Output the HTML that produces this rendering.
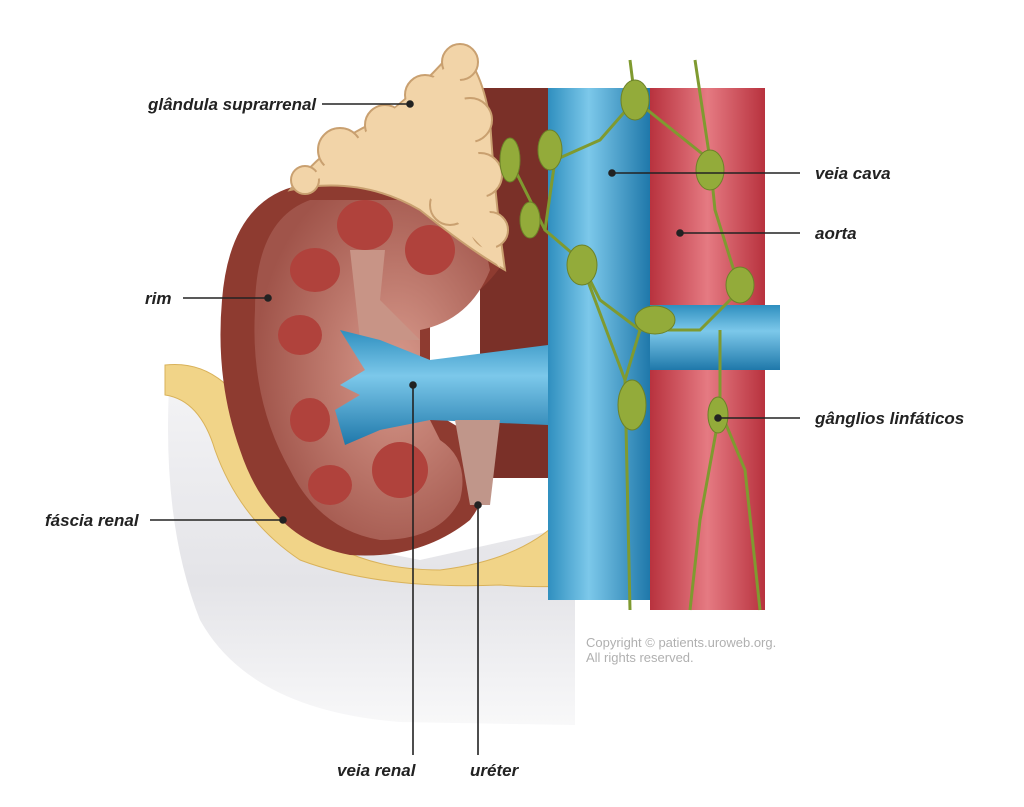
<!DOCTYPE html>
<html><head><meta charset="utf-8"><style>
html,body{margin:0;padding:0;background:#fff;}
svg{display:block}
text{font-family:"Liberation Sans",sans-serif;}
.l{font-weight:bold;font-style:italic;font-size:17px;fill:#222}
</style></head><body>
<svg width="1024" height="807" viewBox="0 0 1024 807" xmlns="http://www.w3.org/2000/svg">
<defs>
<linearGradient id="gr" x1="0" y1="0" x2="0" y2="1"><stop offset="0" stop-color="#f4f4f6"/><stop offset="0.6" stop-color="#e4e4e8"/><stop offset="1" stop-color="#f8f8f9"/></linearGradient>
<linearGradient id="bl" x1="0" y1="0" x2="1" y2="0"><stop offset="0" stop-color="#2f8fbf"/><stop offset="0.4" stop-color="#7cc8ea"/><stop offset="1" stop-color="#1f78aa"/></linearGradient>
<linearGradient id="blh" x1="0" y1="0" x2="0" y2="1"><stop offset="0" stop-color="#2f8fbf"/><stop offset="0.4" stop-color="#7cc8ea"/><stop offset="1" stop-color="#1f78aa"/></linearGradient>
<linearGradient id="rd" x1="0" y1="0" x2="1" y2="0"><stop offset="0" stop-color="#b8323e"/><stop offset="0.5" stop-color="#e57a82"/><stop offset="1" stop-color="#b8323e"/></linearGradient>
<radialGradient id="kd" cx="0.6" cy="0.5" r="0.6"><stop offset="0" stop-color="#d89a8c"/><stop offset="1" stop-color="#a0544a"/></radialGradient>
</defs>
<path d="M170 370 Q160 520 200 620 Q250 710 400 722 L575 725 L575 600 L605 580 L600 520 L420 560 L270 530 Z" fill="url(#gr)"/>
<rect x="480" y="88" width="75" height="390" fill="#7a3028"/>
<rect x="650" y="88" width="115" height="522" fill="url(#rd)"/>
<path d="M165 365 Q210 360 240 400 Q270 470 300 520 Q350 570 440 570 Q520 560 560 520 L580 540 L605 580 Q560 590 500 585 Q380 590 300 560 Q240 520 215 450 Q200 400 165 395 Z" fill="#f1d488" stroke="#d9b25a"/>
<path d="M300 185 Q230 200 222 300 Q215 380 240 450 Q270 540 350 555 Q420 560 470 520 Q500 480 480 440 L430 410 L430 320 Q480 300 505 260 Q500 200 420 185 Z" fill="#8e3b30"/>
<path d="M310 200 Q255 220 255 310 Q250 400 290 470 Q320 530 380 540 Q440 540 460 500 Q470 460 440 440 L420 400 L420 330 Q470 320 490 270 Q480 210 410 200 Z" fill="url(#kd)"/>
<g fill="#b0423c">
<ellipse cx="365" cy="225" rx="28" ry="25"/><ellipse cx="430" cy="250" rx="25" ry="25"/><ellipse cx="315" cy="270" rx="25" ry="22"/>
<ellipse cx="300" cy="335" rx="22" ry="20"/><ellipse cx="310" cy="420" rx="20" ry="22"/><ellipse cx="330" cy="485" rx="22" ry="20"/><ellipse cx="400" cy="470" rx="28" ry="28"/>
</g>
<path d="M350 250 L385 250 L380 300 L420 340 L360 340 Z" fill="#c89486"/>
<path d="M340 330 L380 340 L430 360 L548 345 L548 425 L430 420 L380 430 L345 445 L335 410 L360 395 L340 385 L365 370 Z" fill="url(#blh)"/>
<path d="M455 420 L500 420 L490 505 L470 505 Z" fill="#c0968a"/>
<rect x="548" y="88" width="102" height="512" fill="url(#bl)"/>
<rect x="650" y="305" width="130" height="65" fill="url(#blh)"/>
<g fill="#f2d4a8" stroke="#c9a070" stroke-width="2">
<path d="M290 190 Q330 140 380 120 Q430 80 455 48 Q480 60 490 120 Q495 200 505 270 Q470 250 420 210 Q360 175 290 190 Z"/>
<circle cx="460" cy="62" r="18"/><circle cx="425" cy="95" r="20"/><circle cx="385" cy="125" r="20"/><circle cx="340" cy="150" r="22"/><circle cx="305" cy="180" r="14"/>
<circle cx="470" cy="120" r="22"/><circle cx="480" cy="175" r="22"/><circle cx="490" cy="230" r="18"/><circle cx="430" cy="150" r="22"/><circle cx="450" cy="205" r="20"/>
</g>
<path d="M300 185 Q360 160 420 190 Q470 230 500 268 L480 160 L455 60 Z" fill="#f2d4a8"/>
<g stroke="#7f9a30" stroke-width="3" fill="none">
<path d="M630 60 L635 100 L600 140 L555 160 L545 230 L580 260 L600 300 L640 330 L700 330 L740 290 L715 210 L710 160 L695 60"/>
<path d="M580 260 L625 380 L630 610"/><path d="M640 330 L625 380"/><path d="M720 330 L720 410 L700 520 L690 610"/><path d="M720 410 L745 470 L760 610"/>
<path d="M635 100 L710 160"/><path d="M545 230 L510 160"/>
</g>
<g fill="#93ab3a" stroke="#6c8228">
<ellipse cx="635" cy="100" rx="14" ry="20"/><ellipse cx="550" cy="150" rx="12" ry="20"/><ellipse cx="710" cy="170" rx="14" ry="20"/><ellipse cx="510" cy="160" rx="10" ry="22"/>
<ellipse cx="582" cy="265" rx="15" ry="20"/><ellipse cx="740" cy="285" rx="14" ry="18"/><ellipse cx="655" cy="320" rx="20" ry="14"/><ellipse cx="632" cy="405" rx="14" ry="25"/><ellipse cx="718" cy="415" rx="10" ry="18"/><ellipse cx="530" cy="220" rx="10" ry="18"/>
</g>
<g stroke="#222" stroke-width="1.6" fill="#222">
<line x1="322" y1="104" x2="410" y2="104"/><circle cx="410" cy="104" r="3"/>
<line x1="612" y1="173" x2="800" y2="173"/><circle cx="612" cy="173" r="3"/>
<line x1="680" y1="233" x2="800" y2="233"/><circle cx="680" cy="233" r="3"/>
<line x1="183" y1="298" x2="268" y2="298"/><circle cx="268" cy="298" r="3"/>
<line x1="718" y1="418" x2="800" y2="418"/><circle cx="718" cy="418" r="3"/>
<line x1="150" y1="520" x2="283" y2="520"/><circle cx="283" cy="520" r="3"/>
<line x1="413" y1="385" x2="413" y2="755"/><circle cx="413" cy="385" r="3"/>
<line x1="478" y1="505" x2="478" y2="755"/><circle cx="478" cy="505" r="3"/>
</g>
<text class="l" x="148" y="110">glândula suprarrenal</text>
<text class="l" x="815" y="179">veia cava</text>
<text class="l" x="815" y="239">aorta</text>
<text class="l" x="145" y="304">rim</text>
<text class="l" x="815" y="424">gânglios linfáticos</text>
<text class="l" x="45" y="526">fáscia renal</text>
<text class="l" x="337" y="776">veia renal</text>
<text class="l" x="470" y="776">uréter</text>
<text x="586" y="647" font-size="13" fill="#b0b0b0">Copyright © patients.uroweb.org.</text>
<text x="586" y="662" font-size="13" fill="#b0b0b0">All rights reserved.</text>
</svg>
</body></html>
